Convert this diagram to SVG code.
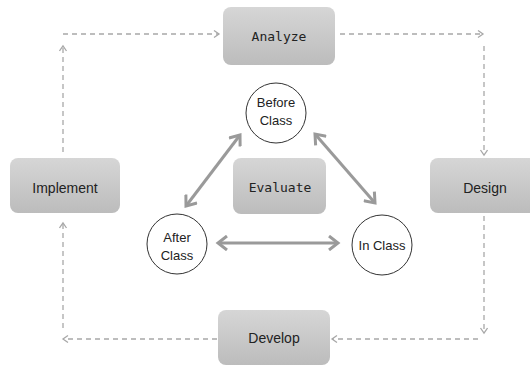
<svg xmlns="http://www.w3.org/2000/svg" width="530" height="367" viewBox="0 0 530 367">
<style>
.box{fill:url(#g);}
.t{font-family:"Liberation Sans",Arial,sans-serif;font-size:14px;fill:#222;text-anchor:middle;}
.m{font-family:"DejaVu Sans Mono",monospace;font-size:13px;fill:#222;text-anchor:middle;}
.c{font-family:"Liberation Sans",Arial,sans-serif;font-size:13px;fill:#222;text-anchor:middle;}
.circ{fill:#fff;stroke:#333;stroke-width:1;}
.d{fill:none;stroke:#a8a8a8;stroke-width:1.3;stroke-dasharray:5 4;marker-end:url(#da);}
.s{fill:none;stroke:#9a9a9a;stroke-width:3;marker-start:url(#sa);marker-end:url(#sa);}
</style>
<defs>
<linearGradient id="g" x1="0" y1="0" x2="0" y2="1">
<stop offset="0" stop-color="#d6d6d6"/>
<stop offset="1" stop-color="#bcbcbc"/>
</linearGradient>
<marker id="da" markerUnits="userSpaceOnUse" markerWidth="10" markerHeight="10" refX="6" refY="4" orient="auto">
<path d="M1,0.5 L6,4 L1,7.5" fill="none" stroke="#a8a8a8" stroke-width="1.3"/>
</marker>
<marker id="sa" markerUnits="userSpaceOnUse" markerWidth="14" markerHeight="16" refX="11" refY="8" orient="auto-start-reverse">
<path d="M2,1 L11,8 L2,15" fill="none" stroke="#9a9a9a" stroke-width="3"/>
</marker>
</defs>
<g id="connectors">
<path class="d" d="M63,152 V46"/>
<path class="d" d="M63,34 H219"/>
<path class="d" d="M340,34 H483"/>
<path class="d" d="M484,46 V155"/>
<path class="d" d="M484,216 V333"/>
<path class="d" d="M478,339 H332"/>
<path class="d" d="M217,339 H63"/>
<path class="d" d="M63,328 V223"/>
<path class="s" d="M240,135 L186,206"/>
<path class="s" d="M315,134 L375,203"/>
<path class="s" d="M218,243 L338,243"/>
</g>
<g id="analyze"><rect class="box" x="223" y="7" width="112" height="58" rx="8"/><text class="m" x="279" y="41">Analyze</text></g>
<g id="design"><rect class="box" x="430" y="158" width="110" height="55" rx="8"/><text class="t" x="485" y="193">Design</text></g>
<g id="develop"><rect class="box" x="218" y="310" width="112" height="55" rx="8"/><text class="t" x="274" y="343">Develop</text></g>
<g id="implement"><rect class="box" x="10" y="158" width="110" height="55" rx="8"/><text class="t" x="65" y="193">Implement</text></g>
<g id="evaluate"><rect class="box" x="233" y="158" width="93" height="56" rx="8"/><text class="m" x="280" y="192">Evaluate</text></g>
<g id="before"><circle class="circ" cx="276" cy="113" r="30"/><text class="c" x="276" y="107">Before</text><text class="c" x="276" y="125">Class</text></g>
<g id="after"><circle class="circ" cx="177" cy="244" r="30"/><text class="c" x="177" y="242">After</text><text class="c" x="177" y="260">Class</text></g>
<g id="inclass"><circle class="circ" cx="382" cy="245" r="30"/><text class="c" x="382" y="250">In Class</text></g>
</svg>
